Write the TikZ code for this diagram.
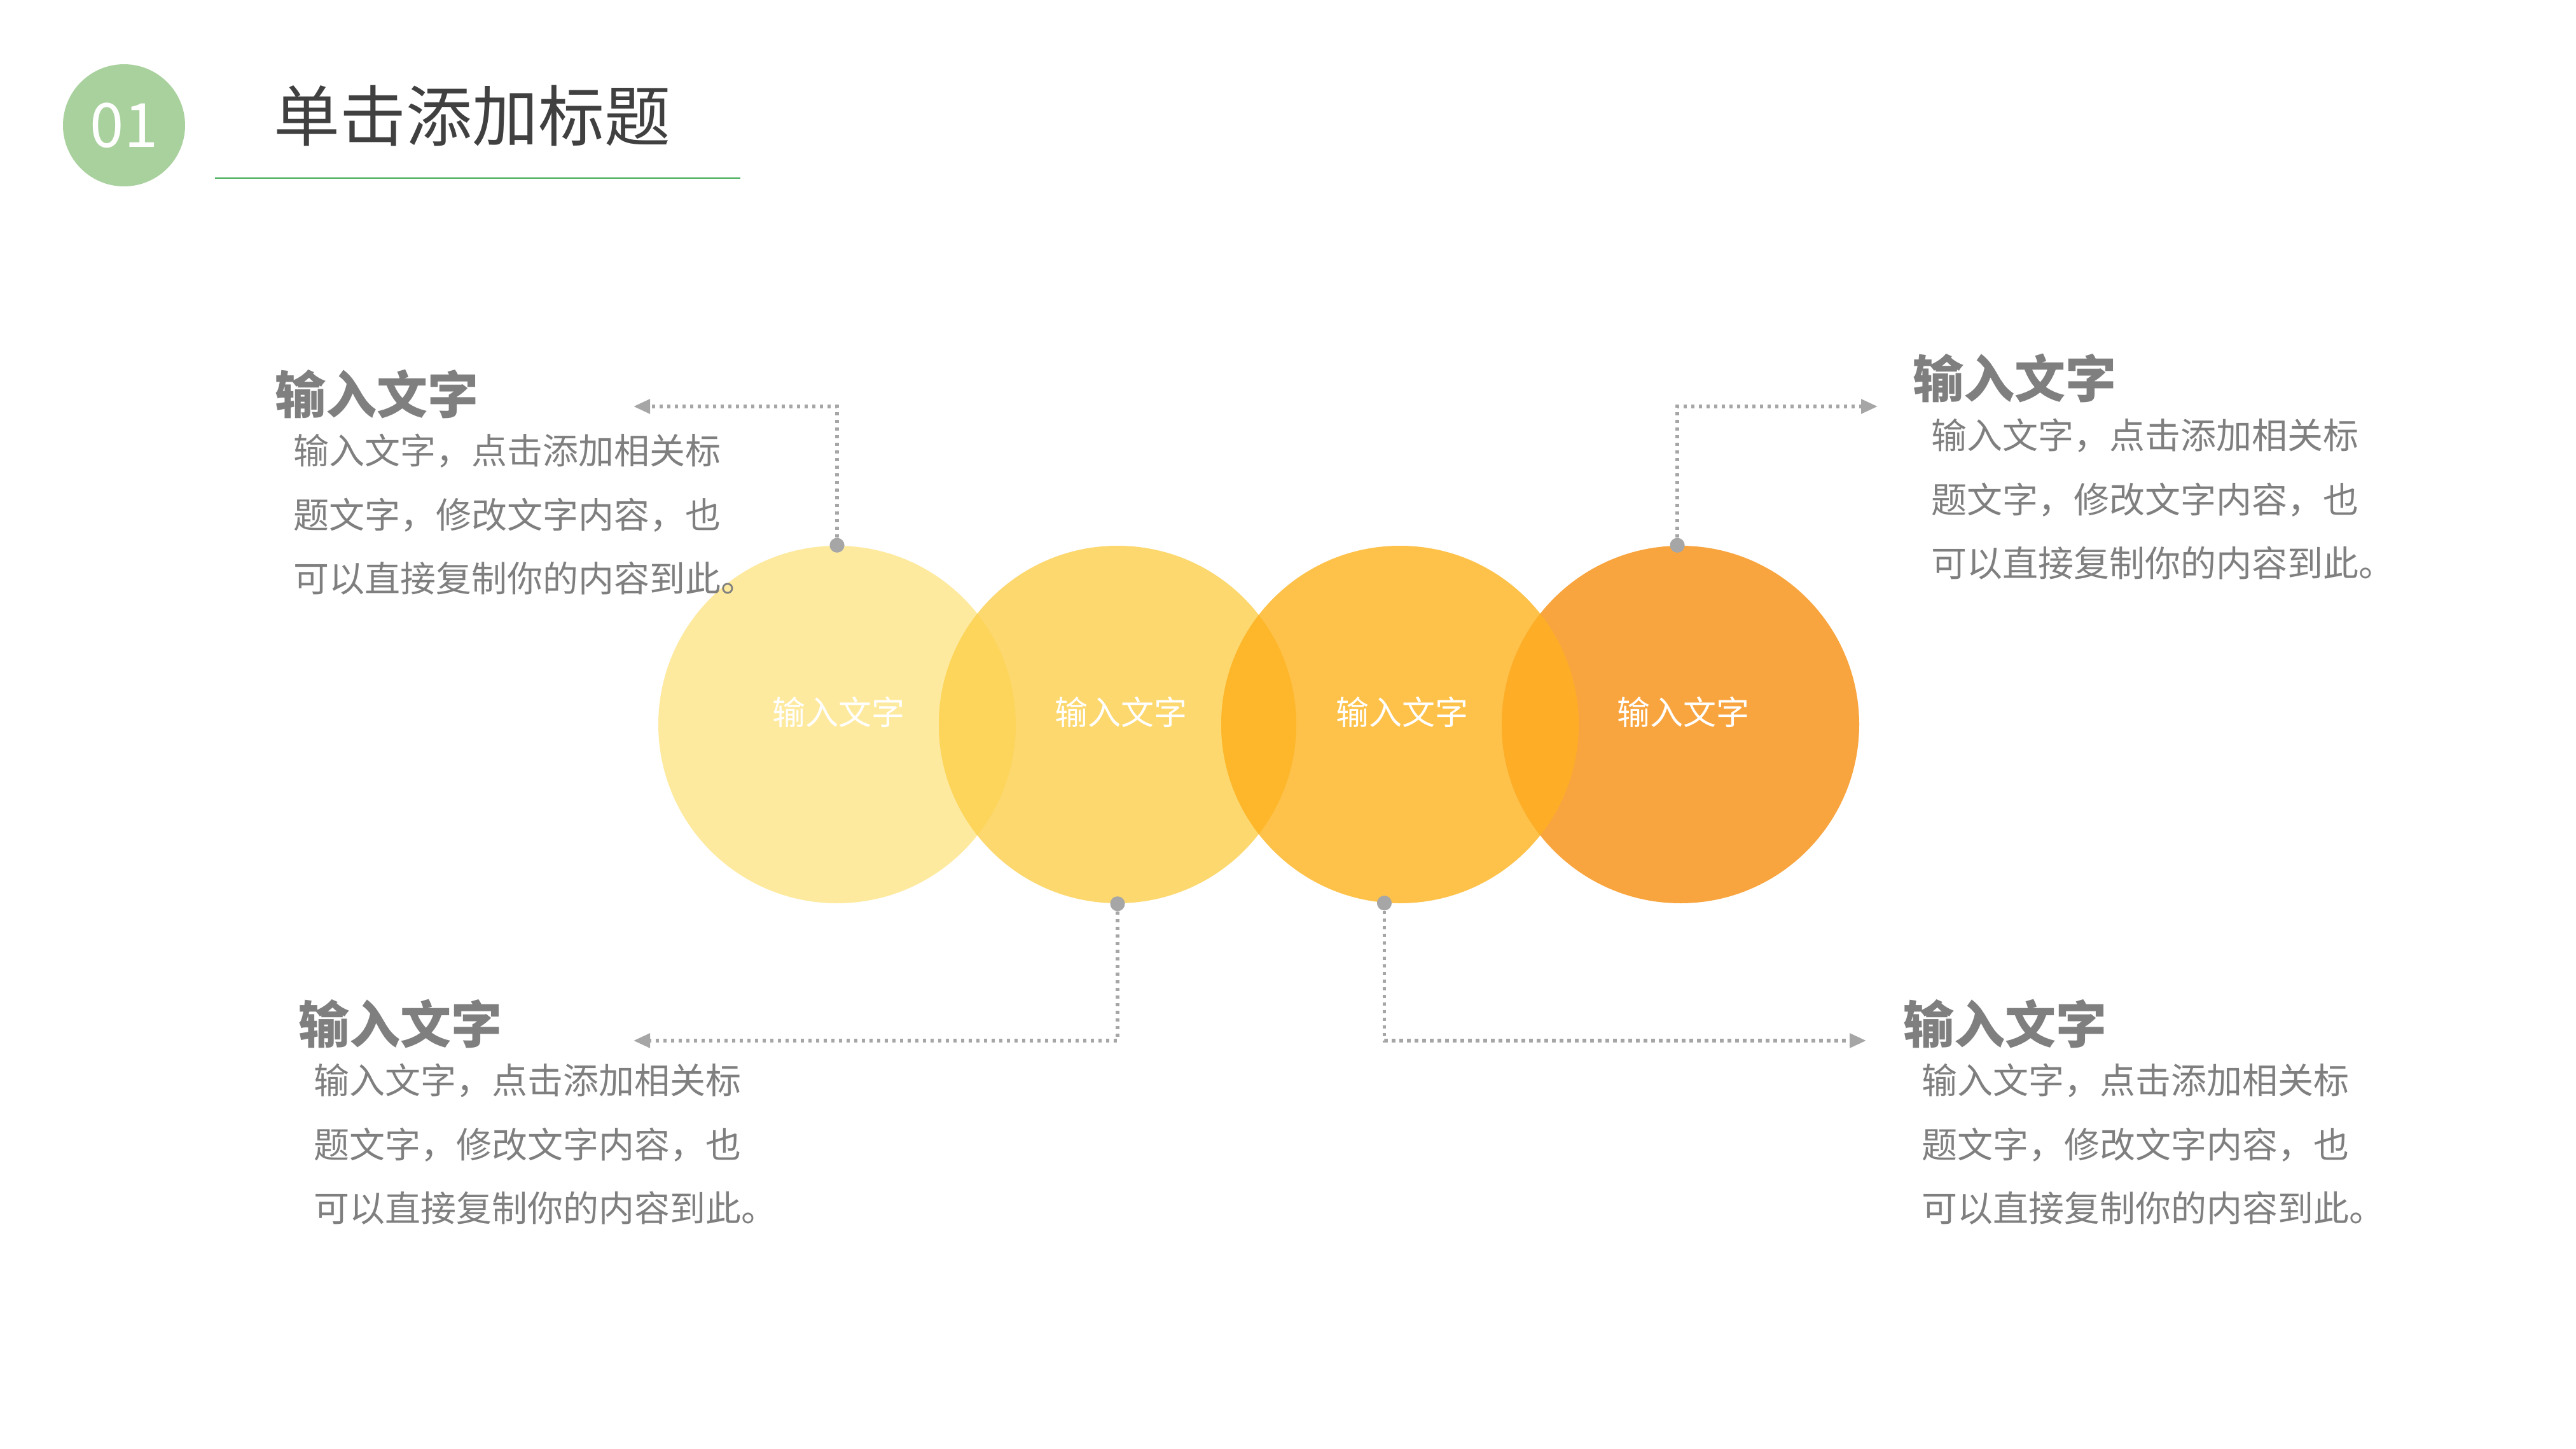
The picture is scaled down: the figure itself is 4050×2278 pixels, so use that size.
\documentclass[tikz,border=0pt]{standalone}
\usepackage{fontspec}
\setmainfont{Noto Sans CJK SC}
\usetikzlibrary{arrows.meta}
\definecolor{cA}{HTML}{FEEA9F}
\definecolor{cB}{HTML}{FCD86F}
\definecolor{cC}{HTML}{FEC24A}
\definecolor{cD}{HTML}{F9A53F}
\definecolor{oAB}{HTML}{FDD55B}
\definecolor{oBC}{HTML}{FEB72B}
\definecolor{oCD}{HTML}{FDAE26}
\definecolor{badge}{HTML}{A9D19E}
\definecolor{rule}{HTML}{3DAA4F}
\definecolor{titlegray}{HTML}{404040}
\definecolor{txtgray}{HTML}{7F7F7F}
\definecolor{lngray}{HTML}{A6A6A6}
\tikzset{
  bigcirc/.style={circle, inner sep=0pt, minimum size=140.5pt, draw=none},
  circlabel/.style={text=white, font=\fontsize{13pt}{15pt}\selectfont, inner sep=0pt},
  headtxt/.style={anchor=west, inner sep=0pt, text=txtgray, font=\fontsize{20pt}{24pt}\selectfont\bfseries},
  bodytxt/.style={anchor=west, inner sep=0pt, align=left, text=txtgray, font=\fontsize{14pt}{25.1pt}\selectfont},
  dotmark/.style={circle, fill=lngray, inner sep=0pt, minimum size=5.8pt},
  conn/.style={draw=lngray, line width=1.4pt, dash pattern=on 1.4pt off 1.6pt, -{Triangle[length=6.5pt,width=5.5pt]}},
}
\begin{document}
\begin{tikzpicture}[x=0.25pt,y=-0.25pt]
\useasboundingbox (0,0) rectangle (4050,2278);
\fill[white] (0,0) rectangle (4050,2278);
% header
\node[circle, fill=badge, minimum size=48pt, inner sep=0pt] (badge) at (195,197) {};
\node[text=white, font=\fontsize{24pt}{28pt}\selectfont, inner sep=0pt] (num) at (195,197) {01};
\node[anchor=west, inner sep=0pt, text=titlegray, font=\fontsize{26pt}{30pt}\selectfont] (title) at (430,182) {单击添加标题};
\coordinate (r1) at (338,280);
\coordinate (r2) at (1164,280);
\draw[rule, line width=0.6pt] (r1) -- (r2);
% circles
\node[bigcirc, fill=cA] (c1) at (1316,1139) {};
\node[bigcirc, fill=cB] (c2) at (1757,1139) {};
\node[bigcirc, fill=cC] (c3) at (2201,1139) {};
\node[bigcirc, fill=cD] (c4) at (2642,1139) {};
\begin{scope}
  \clip (c1.center) circle[radius=70.25pt];
  \fill[oAB] (c2.center) circle[radius=70.25pt];
\end{scope}
\begin{scope}
  \clip (c2.center) circle[radius=70.25pt];
  \fill[oBC] (c3.center) circle[radius=70.25pt];
\end{scope}
\begin{scope}
  \clip (c3.center) circle[radius=70.25pt];
  \fill[oCD] (c4.center) circle[radius=70.25pt];
\end{scope}
\node[circlabel] (l1) at (1318,1120) {输入文字};
\node[circlabel] (l2) at (1762,1120) {输入文字};
\node[circlabel] (l3) at (2204,1120) {输入文字};
\node[circlabel] (l4) at (2646,1120) {输入文字};
% text blocks
\node[headtxt] (h1) at (432,620) {输入文字};
\node[bodytxt] (b1) at (461,809) {输入文字，点击添加相关标\\题文字，修改文字内容，也\\可以直接复制你的内容到此。};
\node[headtxt] (h2) at (3007,595) {输入文字};
\node[bodytxt] (b2) at (3036,785) {输入文字，点击添加相关标\\题文字，修改文字内容，也\\可以直接复制你的内容到此。};
\node[headtxt] (h3) at (469,1610) {输入文字};
\node[bodytxt] (b3) at (493,1799) {输入文字，点击添加相关标\\题文字，修改文字内容，也\\可以直接复制你的内容到此。};
\node[headtxt] (h4) at (2992,1610) {输入文字};
\node[bodytxt] (b4) at (3021,1799) {输入文字，点击添加相关标\\题文字，修改文字内容，也\\可以直接复制你的内容到此。};
% connectors
\coordinate (d1) at (c1.north);
\coordinate (d2) at (c2.south);
\coordinate (d3) at (c3.265);
\coordinate (d4) at (c4.91);
\coordinate (t1) at (996,639);
\coordinate (t2) at (2952,639);
\coordinate (t3) at (996,1636);
\coordinate (t4) at (2934,1636);
\draw[conn] (d1) |- (t1);
\draw[conn] (d4) |- (t2);
\draw[conn] (d2) |- (t3);
\draw[conn] (d3) |- (t4);
\node[dotmark] (m1) at (d1) {};
\node[dotmark] (m2) at (d2) {};
\node[dotmark] (m3) at (d3) {};
\node[dotmark] (m4) at (d4) {};
\end{tikzpicture}
\end{document}
